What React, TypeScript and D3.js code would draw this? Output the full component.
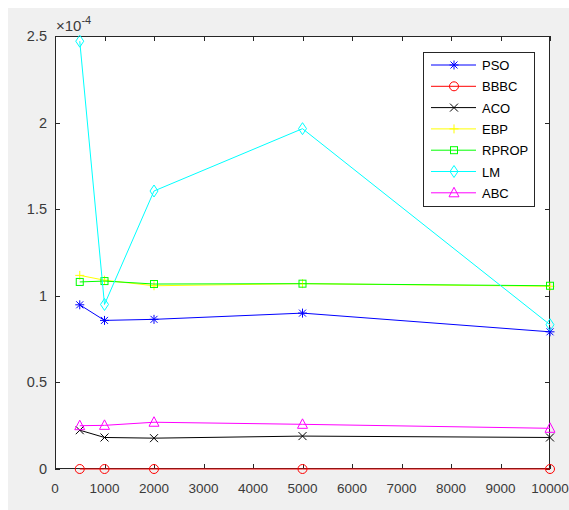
import React, { useRef, useEffect } from 'react';
import * as d3 from 'd3';

// x values and series values (in units of 1e-4)
const X_VALUES = [500, 1000, 2000, 5000, 10000];
const SERIES_NAMES = ['PSO', 'BBBC', 'ACO', 'EBP', 'RPROP', 'LM', 'ABC'];
const PSO = [0.948, 0.858, 0.864, 0.9, 0.792];
const BBBC = [0.0, 0.0, 0.0, 0.0, 0.0];
const ACO = [0.224, 0.182, 0.178, 0.19, 0.182];
const EBP = [1.118, 1.09, 1.058, 1.07, 1.055];
const RPROP = [1.08, 1.085, 1.068, 1.07, 1.058];
const LM = [2.47, 0.95, 1.605, 1.965, 0.833];
const ABC = [0.25, 0.252, 0.27, 0.258, 0.235];
const X_TICKS = [0, 1000, 2000, 3000, 4000, 5000, 6000, 7000, 8000, 9000, 10000];
const Y_TICKS = [0, 0.5, 1, 1.5, 2, 2.5];

const COLORS = ['#0000ff', '#ff0000', '#000000', '#ffff00', '#00ff00', '#00ffff', '#ff00ff'];
const MARKERS = ['star', 'circle', 'x', 'plus', 'square', 'diamond', 'triangle'];

function drawMarker(g, type, x, y, color) {
  const s = 4.5;
  if (type === 'circle') {
    g.append('circle').attr('cx', x).attr('cy', y).attr('r', s)
      .attr('fill', 'none').attr('stroke', color);
  } else if (type === 'square') {
    g.append('rect').attr('x', x - 3.5).attr('y', y - 3.5).attr('width', 7).attr('height', 7)
      .attr('fill', 'none').attr('stroke', color);
  } else if (type === 'diamond') {
    g.append('path').attr('d', `M${x},${y - 6}L${x + 4},${y}L${x},${y + 6}L${x - 4},${y}Z`)
      .attr('fill', 'none').attr('stroke', color);
  } else if (type === 'triangle') {
    g.append('path').attr('d', `M${x},${y - 5.5}L${x + 5},${y + 4}L${x - 5},${y + 4}Z`)
      .attr('fill', 'none').attr('stroke', color);
  } else if (type === 'plus') {
    g.append('path').attr('d', `M${x - s},${y}H${x + s}M${x},${y - s}V${y + s}`)
      .attr('stroke', color);
  } else if (type === 'x') {
    g.append('path').attr('d', `M${x - 4},${y - 4}L${x + 4},${y + 4}M${x - 4},${y + 4}L${x + 4},${y - 4}`)
      .attr('stroke', color);
  } else if (type === 'star') {
    g.append('path').attr('d', `M${x - s},${y}H${x + s}M${x},${y - s}V${y + s}M${x - 3.5},${y - 3.5}L${x + 3.5},${y + 3.5}M${x - 3.5},${y + 3.5}L${x + 3.5},${y - 3.5}`)
      .attr('stroke', color);
  }
}

function LineChart() {
  const ref = useRef(null);

  useEffect(() => {
    const svg = d3.select(ref.current);
    svg.selectAll('*').remove();

    const root = svg.append('g').attr('transform', 'translate(-8,-8)');
    root.append('rect').attr('x', 8).attr('y', 8).attr('width', 561).attr('height', 502).attr('fill', '#f0f0f0');

    const left = 55, right = 550, top = 36, bottom = 469;
    const x = d3.scaleLinear().domain([0, 10000]).range([left, right]);
    const y = d3.scaleLinear().domain([0, 2.5]).range([bottom, top]);

    root.append('rect').attr('x', left).attr('y', top).attr('width', right - left).attr('height', bottom - top)
      .attr('fill', '#ffffff');

    const axisColor = '#262626';
    const labelColor = '#3a3a3a';
    const font = 'Liberation Sans, Arial, sans-serif';

    // ticks (inward, on all four sides)
    X_TICKS.forEach(t => {
      const px = Math.round(x(t)) + 0.5;
      root.append('line').attr('x1', px).attr('x2', px).attr('y1', bottom).attr('y2', bottom - 5).attr('stroke', axisColor);
      root.append('line').attr('x1', px).attr('x2', px).attr('y1', top).attr('y2', top + 5).attr('stroke', axisColor);
      root.append('text').attr('x', x(t)).attr('y', 493).attr('text-anchor', 'middle')
        .attr('font-family', font).attr('font-size', 13.5).attr('fill', labelColor).text(t);
    });
    Y_TICKS.forEach(t => {
      const py = Math.round(y(t)) + 0.5;
      root.append('line').attr('x1', left).attr('x2', left + 5).attr('y1', py).attr('y2', py).attr('stroke', axisColor);
      root.append('line').attr('x1', right).attr('x2', right - 5).attr('y1', py).attr('y2', py).attr('stroke', axisColor);
      root.append('text').attr('x', 47).attr('y', y(t) + 5).attr('text-anchor', 'end')
        .attr('font-family', font).attr('font-size', 14.5).attr('fill', labelColor).text(t);
    });

    const expo = root.append('text').attr('x', 56).attr('y', 31)
      .attr('font-family', font).attr('font-size', 15).attr('fill', labelColor);
    expo.append('tspan').text('×10');
    expo.append('tspan').attr('dy', -7).attr('font-size', 11).text('-4');

    root.append('rect').attr('x', left + 0.5).attr('y', top + 0.5).attr('width', right - left - 1).attr('height', bottom - top - 1)
      .attr('fill', 'none').attr('stroke', axisColor).attr('stroke-width', 1);

    const allSeries = [PSO, BBBC, ACO, EBP, RPROP, LM, ABC];
    const line = d3.line().x((d, i) => x(X_VALUES[i])).y(d => y(d));

    const plot = root.append('g');
    allSeries.forEach((vals, si) => {
      plot.append('path').attr('d', line(vals)).attr('fill', 'none')
        .attr('stroke', COLORS[si]).attr('stroke-width', 1);
      vals.forEach((v, i) => drawMarker(plot, MARKERS[si], x(X_VALUES[i]), y(v), COLORS[si]));
    });

    // legend
    const lg = root.append('g');
    lg.append('rect').attr('x', 423.5).attr('y', 52.5).attr('width', 111).attr('height', 154)
      .attr('fill', '#ffffff').attr('stroke', axisColor);
    SERIES_NAMES.forEach((name, i) => {
      const ly = 65 + i * 21.3;
      lg.append('line').attr('x1', 431).attr('x2', 476).attr('y1', ly).attr('y2', ly)
        .attr('stroke', COLORS[i]);
      drawMarker(lg, MARKERS[i], 454, ly, COLORS[i]);
      lg.append('text').attr('x', 482).attr('y', ly + 5).attr('font-family', font)
        .attr('font-size', 13).attr('fill', '#000000').text(name);
    });
  }, []);

  // fixed position so the page never grows a scrollbar
  return (
    <svg ref={ref} width={561} height={502}
      style={{ display: 'block', position: 'fixed', left: 8, top: 8 }} />
  );
}

export default function App() {
  return <LineChart />;
}
